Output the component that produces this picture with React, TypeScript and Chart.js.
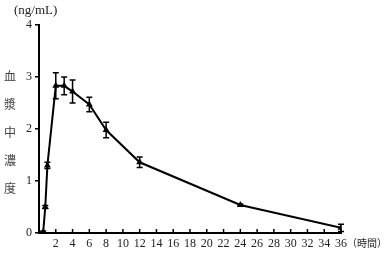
import React, { useEffect, useRef } from "react";
import { Chart, registerables } from "chart.js";

Chart.register(...registerables);

const times = [0, 0.5, 0.75, 1, 2, 3, 4, 6, 8, 12, 24, 36];
const conc = [0, 0.02, 0.5, 1.3, 2.83, 2.83, 2.72, 2.47, 1.98, 1.36, 0.54, 0.1];
const errs = [0, 0.02, 0.03, 0.06, 0.25, 0.17, 0.22, 0.14, 0.15, 0.1, 0.02, 0.07];
const yTitleChars = ["血", "漿", "中", "濃", "度"];
const yUnit = "(ng/mL)";
const xUnit = "（時間）";

const SERIF = "'Liberation Serif', 'DejaVu Serif', 'Noto Sans CJK JP', serif";
const CJK = "'Noto Sans CJK JP', 'Liberation Serif', serif";

export default function App() {
  const ref = useRef<HTMLCanvasElement | null>(null);
  useEffect(() => {
    if (!ref.current) return;
    const errorBars = {
      id: "errorBars",
      afterDatasetsDraw(chart: any) {
        const { ctx, scales } = chart;
        const xs = scales.x, ys = scales.y;
        ctx.save();
        ctx.strokeStyle = "#000";
        ctx.lineWidth = 1.5;
        times.forEach((t, i) => {
          const e = errs[i];
          if (!e) return;
          const x = xs.getPixelForValue(t);
          const y1 = ys.getPixelForValue(conc[i] + e);
          const y2 = ys.getPixelForValue(Math.max(0, conc[i] - e));
          ctx.beginPath();
          ctx.moveTo(x, y1); ctx.lineTo(x, y2);
          ctx.moveTo(x - 3, y1); ctx.lineTo(x + 3, y1);
          ctx.moveTo(x - 3, y2); ctx.lineTo(x + 3, y2);
          ctx.stroke();
        });
        ctx.restore();
      },
      afterDraw(chart: any) {
        const { ctx, scales } = chart;
        const xs = scales.x;
        const yb = scales.y.getPixelForValue(0);
        ctx.save();
        ctx.strokeStyle = "#000";
        ctx.lineWidth = 1.5;
        for (let t = 2; t <= 36; t += 2) {
          const x = xs.getPixelForValue(t);
          ctx.beginPath();
          ctx.moveTo(x, yb);
          ctx.lineTo(x, yb - 4);
          ctx.stroke();
        }
        ctx.fillStyle = "#222";
        ctx.textBaseline = "middle";
        ctx.textAlign = "left";
        ctx.font = "13px " + SERIF;
        ctx.fillText(yUnit, 14, 11);
        ctx.font = "10px " + CJK;
        ctx.fillText(xUnit, 347, 243);
        ctx.textAlign = "center";
        ctx.font = "12px " + CJK;
        ctx.fillStyle = "#444";
        yTitleChars.forEach((c, i) => {
          ctx.fillText(c, 10, 76 + i * 28);
        });
        ctx.restore();
      },
    };
    const chart = new Chart(ref.current, {
      type: "line",
      data: {
        datasets: [
          {
            data: times.map((t, i) => ({ x: t, y: conc[i] })),
            borderColor: "#000",
            backgroundColor: "#000",
            borderWidth: 2,
            pointStyle: "triangle",
            pointRadius: 2,
            tension: 0,
          },
        ],
      },
      options: {
        animation: false,
        responsive: false,
        devicePixelRatio: 1,
        layout: { padding: { top: 25, right: 49, left: 0, bottom: 0 } },
        plugins: { legend: { display: false }, tooltip: { enabled: false } },
        scales: {
          x: {
            type: "linear",
            min: 0,
            max: 36,
            afterFit: (s: any) => { s.height = 21; },
            grid: { display: true, drawOnChartArea: false, drawTicks: false },
            border: { display: true, color: "#000", width: 2 },
            ticks: {
              stepSize: 2,
              autoSkip: false,
              maxRotation: 0,
              padding: 4,
              color: "#222",
              font: { family: SERIF, size: 12 },
              callback: (v: any) => (v === 0 ? "" : String(v)),
            },
          },
          y: {
            min: 0,
            max: 4,
            afterFit: (s: any) => { s.width = 39; },
            grid: { display: true, drawOnChartArea: false, drawTicks: true, tickLength: 4, color: "#000", lineWidth: 1.5 },
            border: { display: true, color: "#000", width: 2 },
            ticks: {
              stepSize: 1,
              padding: 3,
              color: "#222",
              font: { family: SERIF, size: 12 },
            },
          },
        },
      },
      plugins: [errorBars],
    } as any);
    return () => chart.destroy();
  }, []);
  return (
    <div style={{ position: "fixed", left: 0, top: 0, width: 390, height: 254, background: "#fff" }}>
      <canvas ref={ref} width={390} height={254} />
    </div>
  );
}
